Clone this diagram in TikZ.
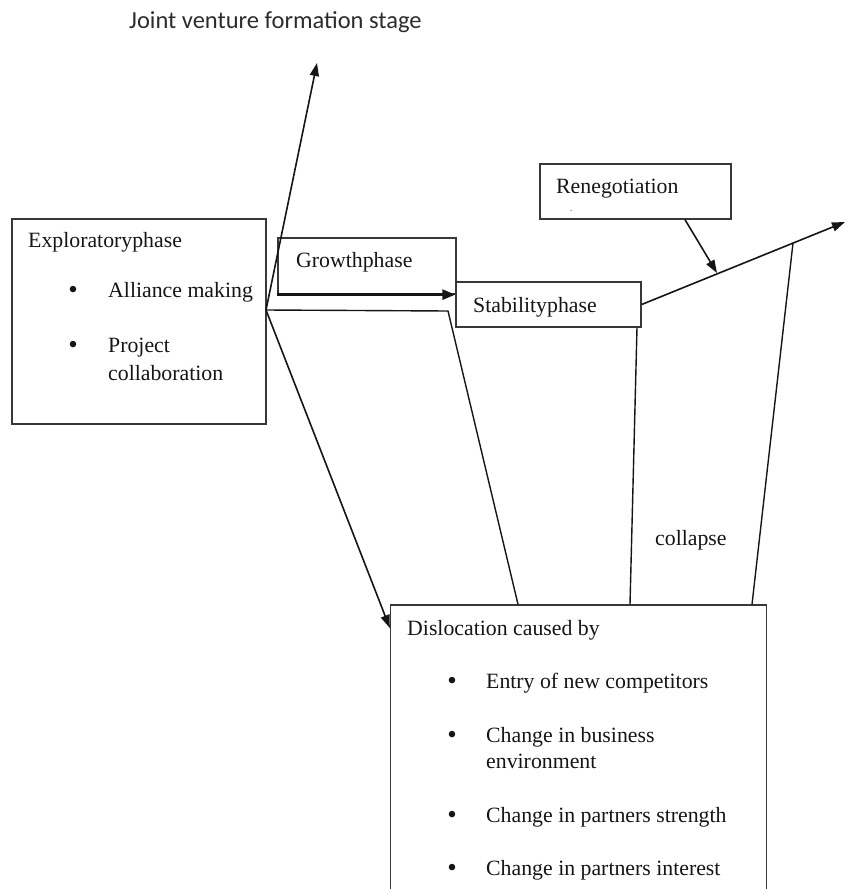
\documentclass[tikz,border=0pt]{standalone}
\usepackage{xcolor}
\usepackage{fontspec}
\setmainfont{Liberation Serif}
\newfontfamily\titlefont{Carlito}
\usepackage{tikz}
\usetikzlibrary{positioning,arrows.meta}
\definecolor{BoxLine}{HTML}{383838}
\definecolor{InkBlack}{HTML}{151515}
\tikzset{
  phasebox/.style={draw=BoxLine,line width=1.3pt,inner sep=0pt},
  txt/.style={anchor=base west,inner sep=0pt,text=InkBlack,
    font=\fontsize{21.8}{25}\selectfont},
  bul/.style={anchor=base,inner sep=0pt,text=InkBlack,
    font=\fontsize{27}{30}\selectfont},
  conn/.style={line width=1.4pt,draw=InkBlack},
  connA/.style={line width=1.6pt,draw=InkBlack,-{Triangle[length=13pt,width=9pt]}},
  connG/.style={line width=2.6pt,draw=InkBlack,-{Triangle[length=13pt,width=10pt]}},
}

\begin{document}
\begin{tikzpicture}[x=1pt,y=-1pt]
  \useasboundingbox (0,0) rectangle (845,889);
  % boxes
  \node[phasebox,minimum width=254pt,minimum height=205pt] (explo) at (139,321.5) {};
  \node[phasebox,minimum width=178pt,minimum height=56pt] (growth) at (367,266) {};
  \node[phasebox,minimum width=185pt,minimum height=45pt] (stab) at (548.5,304.5) {};
  \node[phasebox,minimum width=191pt,minimum height=55pt] (reneg) at (635.5,191.5) {};
  \node[phasebox,minimum width=376pt,minimum height=300pt] (disl) at (578.5,755) {};
  % texts
  \node[anchor=base west,inner sep=0pt,text=InkBlack!90,
    font=\titlefont\fontsize{24.5}{28}\selectfont] (title) at (129,28) {Joint venture formation stage};
  \node[txt] (exploT) at (28,247) {Exploratoryphase};
  \node[bul] (exploB1) at (73,298) {•};
  \node[txt] (exploL1) at (108,297) {Alliance making};
  \node[bul] (exploB2) at (73,353) {•};
  \node[txt] (exploL2) at (108,352) {Project};
  \node[txt] (exploL3) at (108,380) {collaboration};
  \node[txt] (growthT) at (296,267) {Growthphase};
  \node[txt] (stabT) at (473,312) {Stabilityphase};
  \node[txt] (renegT) at (556,193) {Renegotiation};
  \node[txt,font=\fontsize{9}{10}\selectfont] (renegDot) at (570,211) {.};
  \node[txt] (collT) at (655,545) {collapse};
  \node[txt] (dislT) at (407,635) {Dislocation caused by};
  \node[bul] (dislB1) at (452,689) {•};
  \node[txt] (dislL1) at (486,688) {Entry of new competitors};
  \node[bul] (dislB2) at (452,743) {•};
  \node[txt] (dislL2) at (486,742) {Change in business};
  \node[txt] (dislL3) at (486,768) {environment};
  \node[bul] (dislB3) at (452,823) {•};
  \node[txt] (dislL4) at (486,822) {Change in partners strength};
  \node[bul] (dislB4) at (452,876) {•};
  \node[txt] (dislL5) at (486,875) {Change in partners interest};
  % junction and free ends
  \coordinate (jn) at (266,310);
  \coordinate (jvtip) at (317,63);
  \coordinate (bend) at (448,311);
  \coordinate (outtip) at (845,222);
  \coordinate (onrise) at (793,243);
  \coordinate (renegHit) at (717,273);
  % connectors
  \draw[connA] (jn) -- (jvtip);
  \draw[connG] (growth.south west) -- (stab.west |- growth.south);
  \draw[conn] (jn) -- (bend) -- (disl.north -| 518,0);
  \draw[connA] (jn) -- (disl.west |- 0,628);
  \draw[connA] (stab.east) -- (outtip);
  \draw[connA] (reneg.south -| 685,0) -- (renegHit);
  \draw[conn] (stab.south -| 637,0) -- (disl.north -| 630,0);
  \draw[conn] (onrise) -- (disl.north -| 752,0);
\end{tikzpicture}
\end{document}
